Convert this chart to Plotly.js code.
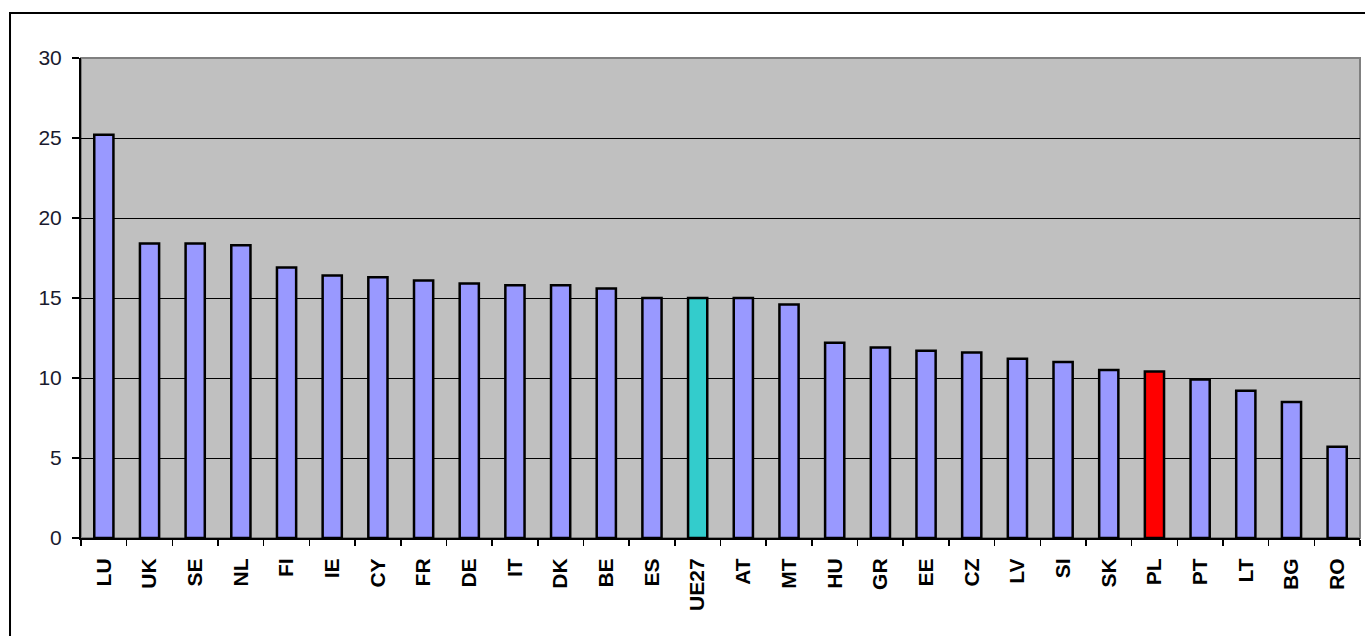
<!DOCTYPE html>
<html>
<head>
<meta charset="utf-8">
<script src="https://cdn.plot.ly/plotly-3.0.1.min.js"></script>
<style>
  html, body { margin: 0; padding: 0; background: #ffffff; overflow: hidden; }
  #chart { width: 1365px; height: 636px; }
</style>
</head>
<body>
<div id="chart"></div>
<script>
// Data
const countries = ["LU","UK","SE","NL","FI","IE","CY","FR","DE","IT","DK","BE","ES","UE27","AT","MT","HU","GR","EE","CZ","LV","SI","SK","PL","PT","LT","BG","RO"];
const values = [25.2,18.4,18.4,18.3,16.9,16.4,16.3,16.1,15.9,15.8,15.8,15.6,15.0,15.0,15.0,14.6,12.2,11.9,11.7,11.6,11.2,11.0,10.5,10.4,9.9,9.2,8.5,5.7];
const yTicks = [0,5,10,15,20,25,30];

const baseColor = "#9999FF";
const highlight = { "UE27": "#33CCCC", "PL": "#FF0000" };
const barColors = countries.map(c => highlight[c] || baseColor);

const trace = {
  type: "bar",
  x: countries,
  y: values,
  marker: { color: barColors, line: { color: "#000000", width: 2.5 } },
  hoverinfo: "x+y"
};

const layout = {
  width: 1365,
  height: 636,
  margin: { l: 81, r: 5, t: 58, b: 98, pad: 0 },
  paper_bgcolor: "#ffffff",
  plot_bgcolor: "#C0C0C0",
  bargap: 0.58,
  showlegend: false,
  font: { family: "Liberation Sans, Arial, sans-serif", color: "#000000" },
  xaxis: {
    type: "category",
    tickangle: -90,
    ticks: "outside",
    tickson: "boundaries",
    ticklen: 6,
    tickcolor: "#000000",
    tickwidth: 1.5,
    ticklabelstandoff: 10,
    showline: true,
    linecolor: "#000000",
    linewidth: 2,
    showgrid: false,
    tickfont: { size: 21, family: "Liberation Sans, Arial, sans-serif", color: "#000000", weight: "bold" },
    fixedrange: true
  },
  yaxis: {
    range: [0, 30],
    tickvals: yTicks,
    ticktext: yTicks.map(String),
    ticks: "outside",
    ticklen: 7,
    tickcolor: "#000000",
    tickwidth: 1.5,
    ticklabelstandoff: 6,
    showline: true,
    linecolor: "#000000",
    linewidth: 2,
    showgrid: true,
    gridcolor: "#000000",
    gridwidth: 1,
    zeroline: false,
    tickfont: { size: 21, family: "Liberation Sans, Arial, sans-serif", color: "#1a1a2e" },
    fixedrange: true
  },
  shapes: [
    {
      type: "rect", xref: "paper", yref: "paper",
      x0: 0, x1: 1, y0: 0, y1: 1,
      line: { color: "#808080", width: 2 },
      fillcolor: "rgba(0,0,0,0)",
      layer: "below"
    },
    {
      type: "rect", xref: "paper", yref: "paper",
      x0: -0.0555, x1: 1.02, y0: -0.3, y1: 1.0937,
      line: { color: "#000000", width: 2 },
      fillcolor: "rgba(0,0,0,0)",
      layer: "above"
    }
  ]
};

Plotly.newPlot("chart", [trace], layout, { displayModeBar: false, staticPlot: true });
</script>
</body>
</html>
